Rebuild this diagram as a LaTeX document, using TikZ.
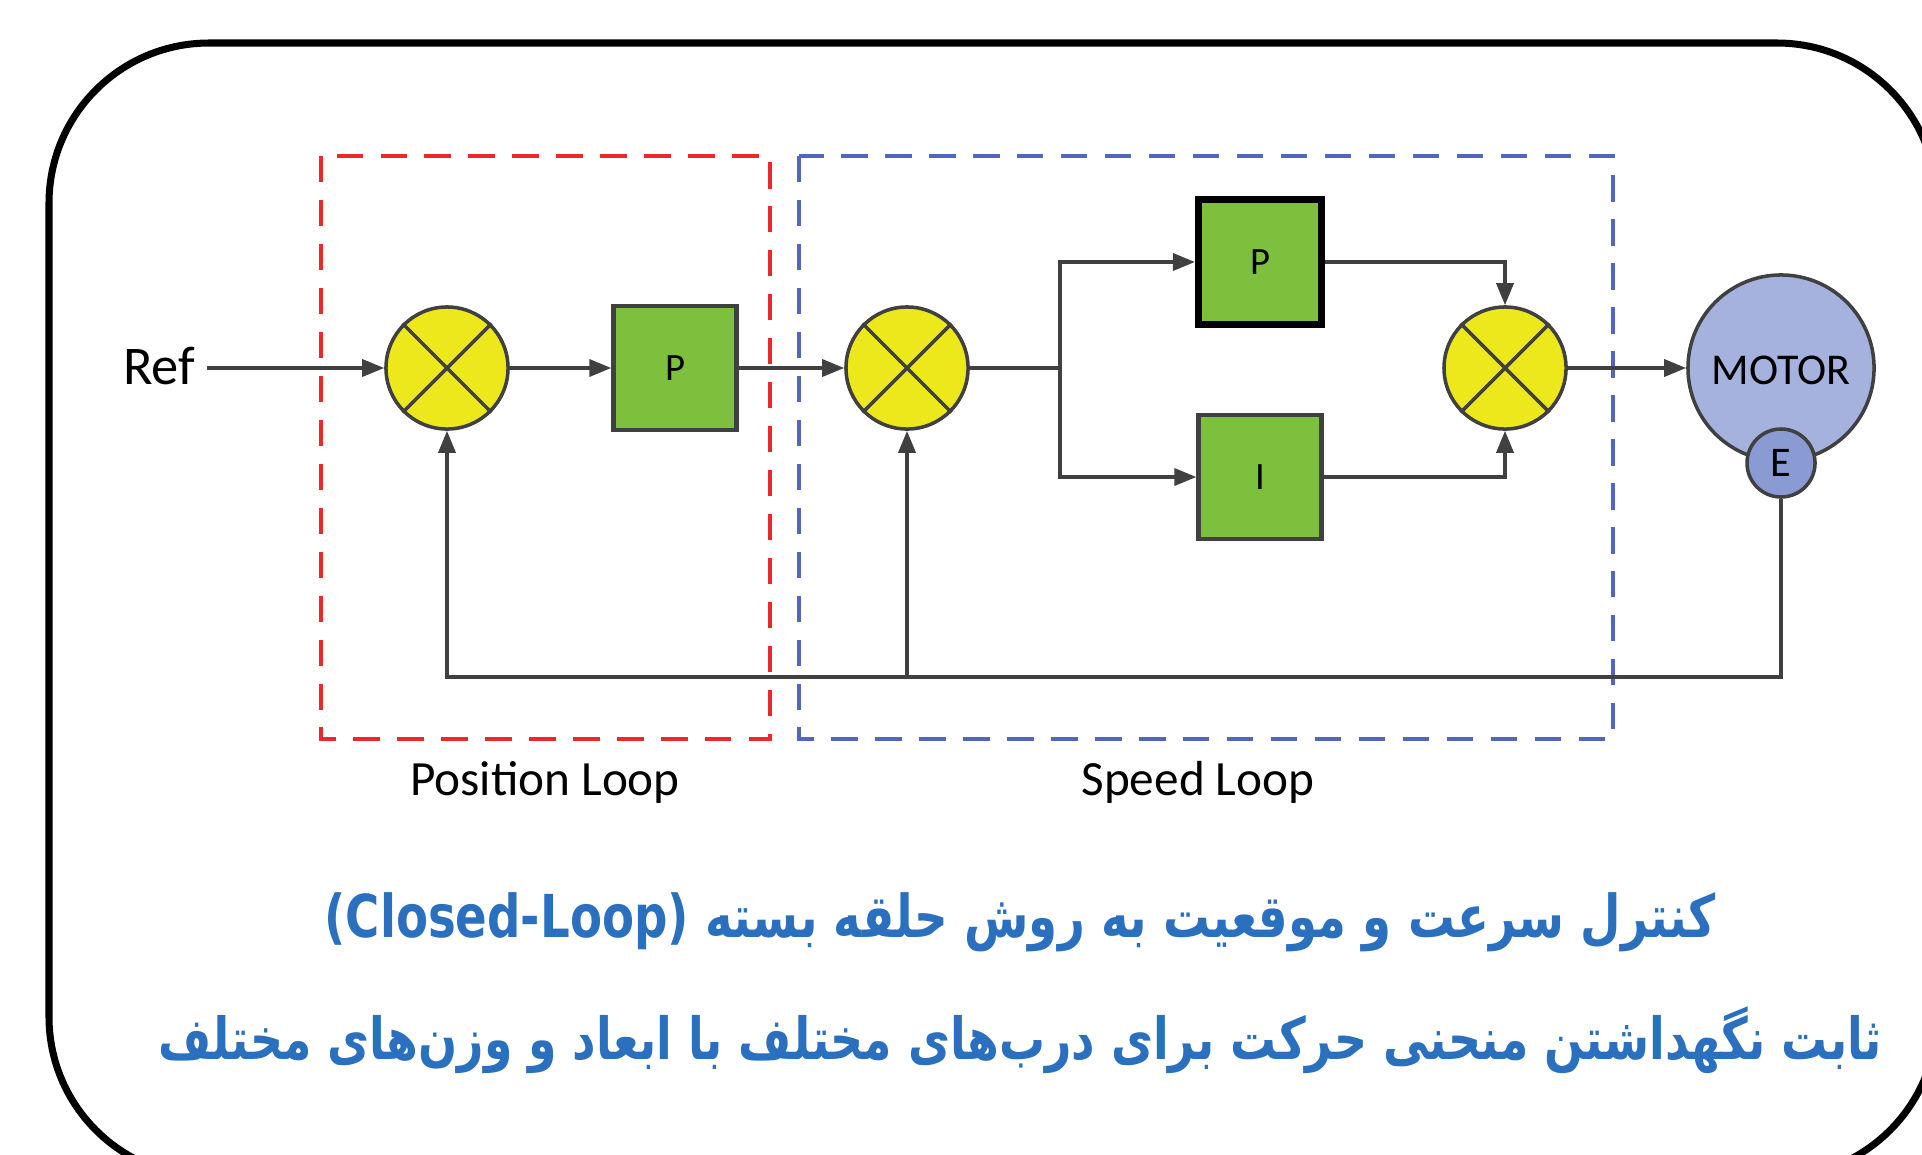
\documentclass[tikz,border=0pt]{standalone}
\usepackage{fontspec}
\setmainfont{Carlito}
\newfontfamily\arabicfont[Script=Arabic,FakeStretch=0.79]{DejaVu Sans}
\TeXXeTstate=1
\usetikzlibrary{arrows.meta}
\definecolor{sumyellow}{RGB}{236,232,28}
\definecolor{gaingreen}{RGB}{125,192,62}
\definecolor{motorblue}{RGB}{166,178,222}
\definecolor{encblue}{RGB}{138,154,210}
\definecolor{wire}{RGB}{64,64,64}
\definecolor{posred}{RGB}{236,40,40}
\definecolor{spdblue}{RGB}{82,102,192}
\definecolor{titleblue}{RGB}{42,112,190}
\tikzset{
  sumnode/.style={circle,draw=wire,line width=1pt,fill=sumyellow,minimum size=1.22cm,inner sep=0pt},
  gainbox/.style={rectangle,draw=wire,line width=1.2pt,fill=gaingreen,minimum width=1.23cm,minimum height=1.24cm,font=\fontsize{11}{13}\selectfont},
  wireline/.style={draw=wire,line width=1pt},
  arrowline/.style={wireline,-{Triangle[length=0.22cm,width=0.17cm]}},
  loopbox/.style={line width=1.4pt,dash pattern=on 7.5pt off 5pt}
}
\begin{document}
\begin{tikzpicture}[x=0.01cm,y=-0.01cm]
\useasboundingbox (0,0) rectangle (1922,1154);
\clip (0,0) rectangle (1922,1154);
\fill[white] (0,0) rectangle (1922,1154);
% frame
\draw[line width=2pt,rounded corners=1.6cm] (49,43) rectangle (1937,1177);
% loop boxes
\draw[loopbox,posred] (321,156) rectangle (770,739);
\draw[loopbox,spdblue] (799,156) rectangle (1613,739);
% blocks
\node (ref) at (159,366) {\fontsize{15.5}{18}\selectfont Ref};
\node[sumnode] (sum1) at (447,368) {};
\node[gainbox] (p1) at (675,368) {P};
\node[sumnode] (sum2) at (907,368) {};
\node[gainbox,draw=black,line width=2pt] (p2) at (1260,262) {P};
\node[gainbox] (i1) at (1260,477) {I};
\node[sumnode] (sum3) at (1505,368) {};
\node[circle,draw=wire,line width=1pt,fill=motorblue,minimum size=1.86cm,inner sep=0pt] (motor) at (1781,368) {};
\node at (1781,370) {\fontsize{12.5}{15}\selectfont MOTOR};
\node[circle,draw=wire,line width=1pt,fill=encblue,minimum size=0.68cm,inner sep=0pt,font=\fontsize{12}{14}\selectfont] (enc) at (1781,463) {E};
\foreach \s in {sum1,sum2,sum3}{
  \draw[wireline] (\s.north west) -- (\s.south east);
  \draw[wireline] (\s.north east) -- (\s.south west);
}
\coordinate (br) at (1060,368);
\coordinate (fb) at (1781,677);
% connectors
\draw[arrowline] (ref.east |- sum1) -- (sum1.west);
\draw[arrowline] (sum1.east) -- (p1.west);
\draw[arrowline] (p1.east) -- (sum2.west);
\draw[wireline] (sum2.east) -- (br);
\draw[arrowline] (br) |- (p2.west);
\draw[arrowline] (br) |- (i1.west);
\draw[arrowline] (p2.east) -| (sum3.north);
\draw[arrowline] (i1.east) -| (sum3.south);
\draw[arrowline] (sum3.east) -- (motor.west);
\draw[arrowline] (enc.south) -- (fb) -| (sum1.south);
\draw[arrowline] (sum2 |- fb) -- (sum2.south);
% labels
\node at (545,782) {\fontsize{14}{17}\selectfont Position Loop};
\node at (1198,782) {\fontsize{14}{17}\selectfont Speed Loop};
\node[text=titleblue] at (1020,922) {\arabicfont\bfseries\fontsize{16.8}{20}\selectfont\beginR کنترل سرعت و موقعیت به روش حلقه بسته \beginL(Closed-Loop)\endL\endR};
\node[text=titleblue] at (1020,1040) {\arabicfont\bfseries\fontsize{16.5}{20}\selectfont\beginR ثابت نگهداشتن منحنی حرکت برای درب‌های مختلف با ابعاد و وزن‌های مختلف\endR};
\end{tikzpicture}
\end{document}
